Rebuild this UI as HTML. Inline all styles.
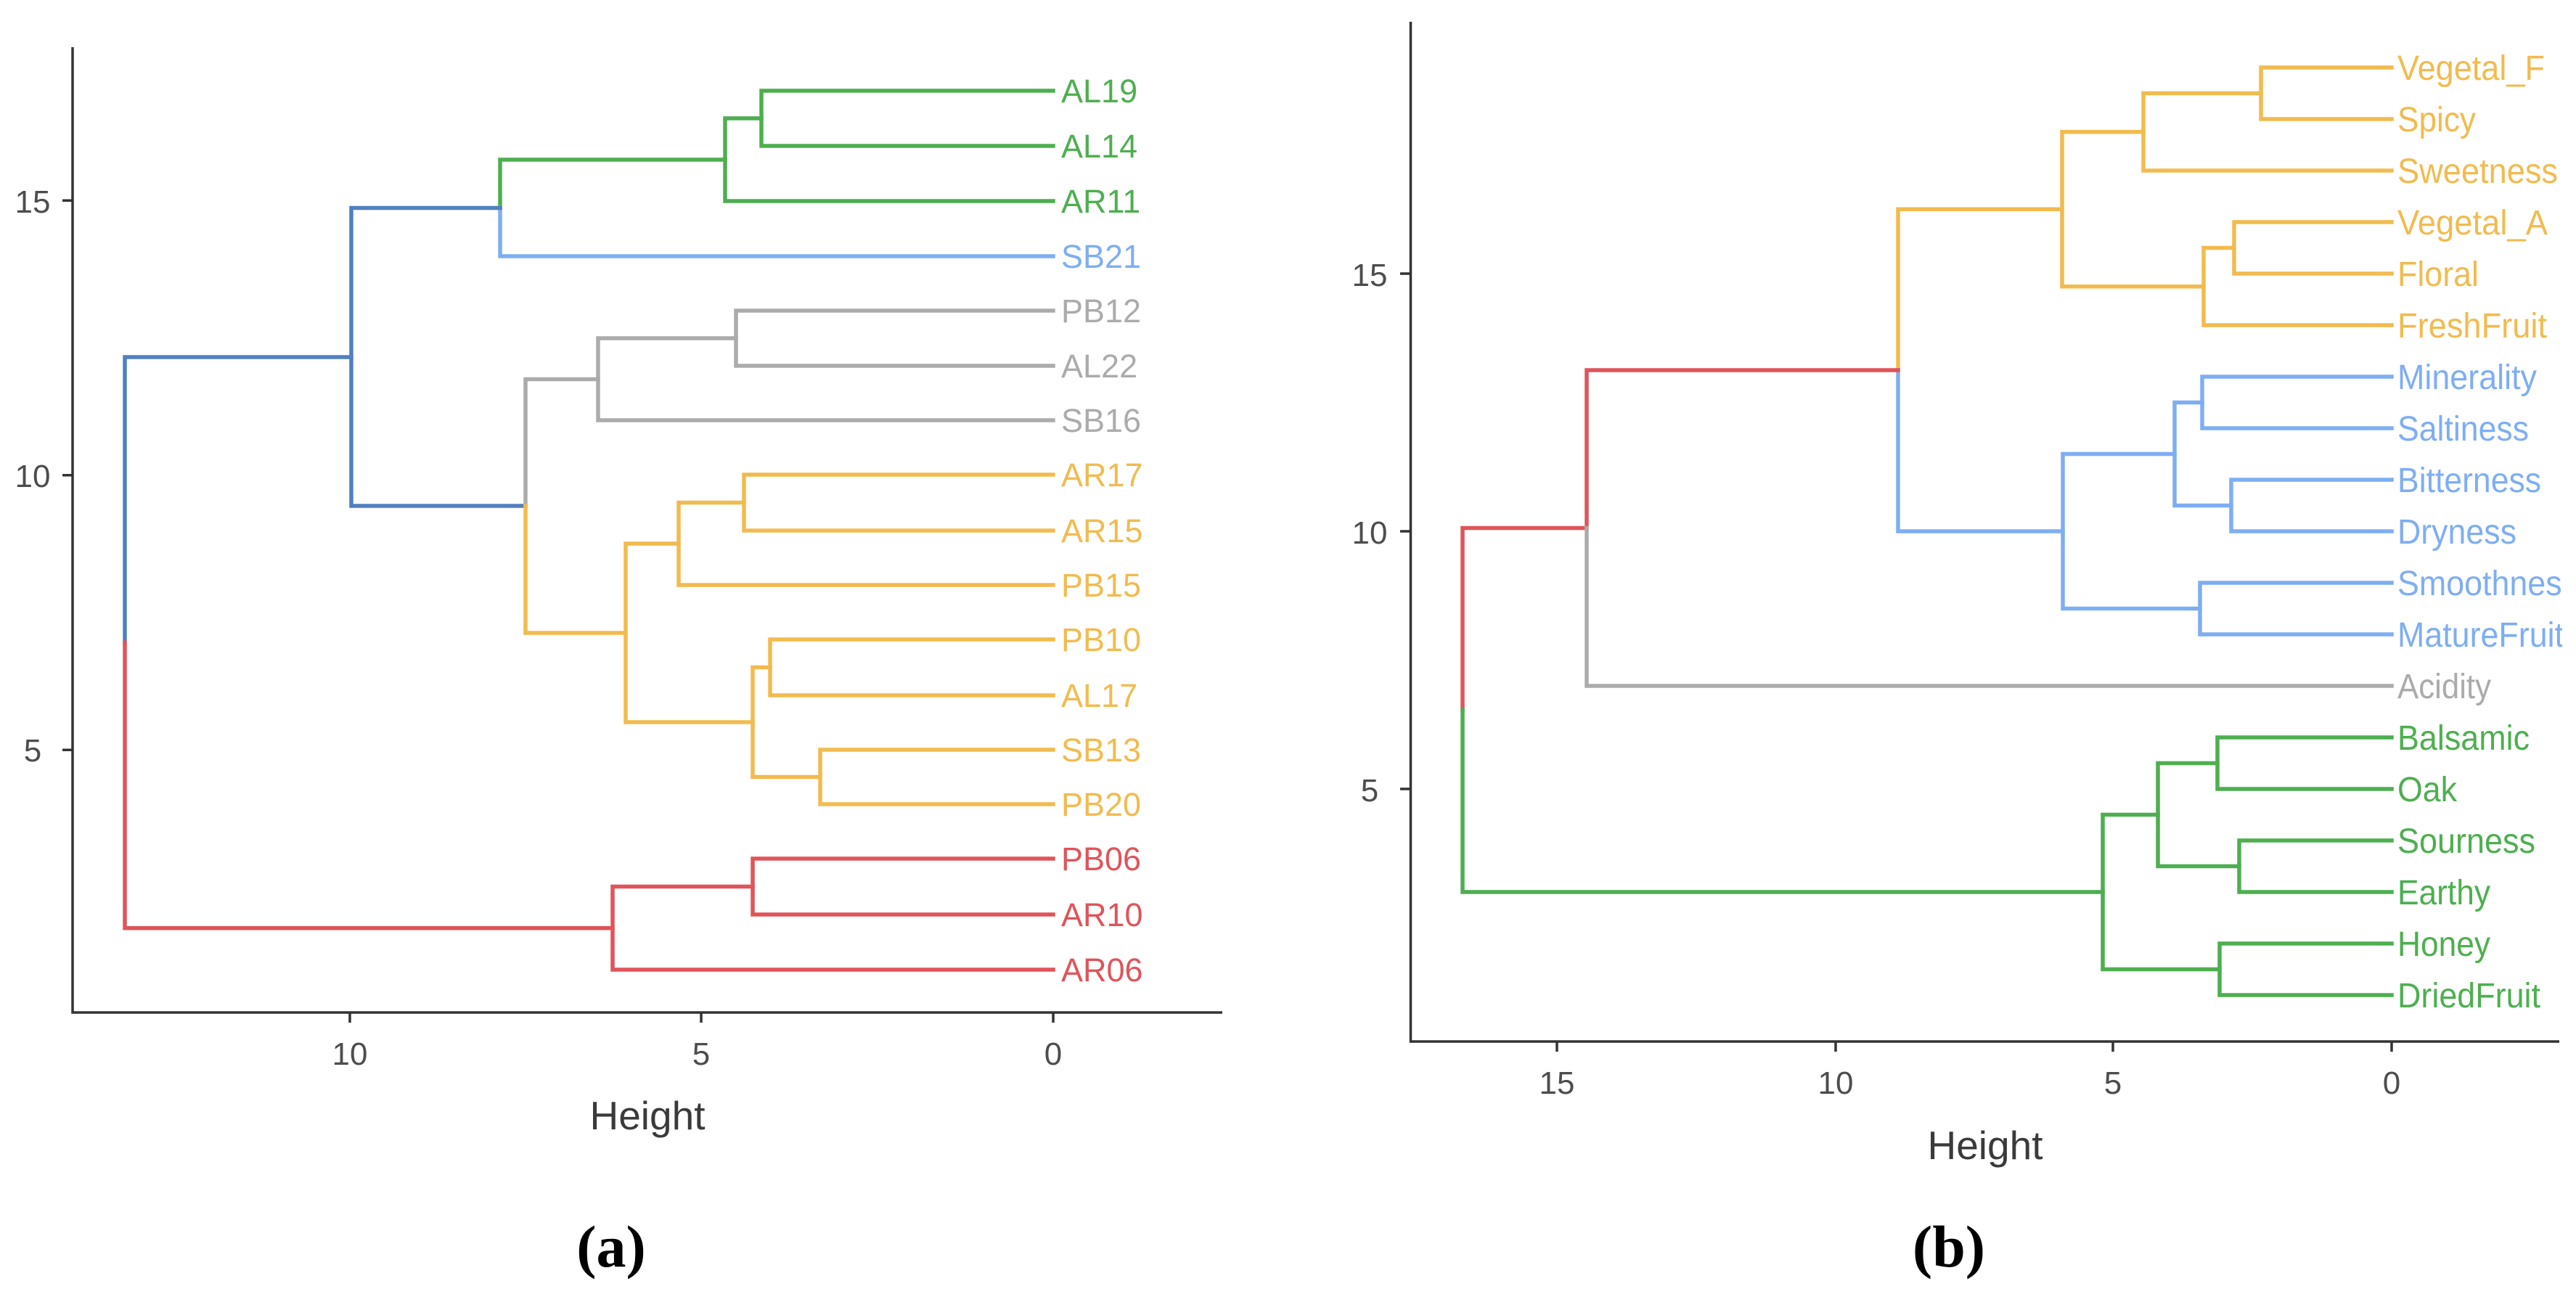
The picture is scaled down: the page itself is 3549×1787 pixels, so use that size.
<!DOCTYPE html>
<html>
<head>
<meta charset="utf-8">
<style>
html,body{margin:0;padding:0;background:#fff;}
svg{display:block;}
</style>
</head>
<body>
<svg xmlns="http://www.w3.org/2000/svg" width="3549" height="1787" viewBox="0 0 3549 1787">
<rect x="0" y="0" width="3549" height="1787" fill="#ffffff"/>
<defs>
<clipPath id="clipb"><rect x="0" y="0" width="3530" height="1787"/></clipPath>
</defs>

<!-- ================= PANEL A ================= -->
<g fill="none" stroke-width="5.5" stroke-linejoin="miter" stroke-linecap="square">
  <!-- green -->
  <g stroke="#4DAF4F">
    <path d="M1451,125 H1049 V201 H1451"/>
    <path d="M1049,163 H999 V277 H1451"/>
    <path d="M999,220 H689 V286.5"/>
  </g>
  <!-- light blue -->
  <path stroke="#7EAEF2" d="M689,286.5 V353 H1451"/>
  <!-- dark blue -->
  <g stroke="#5080C0">
    <path d="M689,286.5 H484 V697 H724"/>
    <path d="M484,492 H172 V885"/>
  </g>
  <!-- red -->
  <g stroke="#E0545A">
    <path d="M172,885 V1278.7 H844"/>
    <path d="M1037,1221.5 H844 V1336 H1451"/>
    <path d="M1451,1183 H1037 V1260 H1451"/>
  </g>
  <!-- gray -->
  <g stroke="#ABABAB">
    <path d="M724,697 V522.5 H824"/>
    <path d="M1014,466 H824 V579 H1451"/>
    <path d="M1451,428 H1014 V504 H1451"/>
  </g>
  <!-- orange -->
  <g stroke="#F2BB4E">
    <path d="M724,697 V872 H862"/>
    <path d="M935,749 H862 V995 H1037"/>
    <path d="M1025,692.5 H935 V806 H1451"/>
    <path d="M1451,654 H1025 V731 H1451"/>
    <path d="M1061,919.5 H1037 V1070.5 H1130"/>
    <path d="M1451,881 H1061 V958 H1451"/>
    <path d="M1451,1033 H1130 V1108 H1451"/>
  </g>
</g>

<!-- axes a -->
<g stroke="#333333" stroke-width="3.5" fill="none">
  <path d="M100,65 V1395 H1684"/>
  <path d="M86,276.3 H100 M86,654.8 H100 M86,1033.2 H100"/>
  <path d="M482,1395 V1409 M966,1395 V1409 M1451,1395 V1409"/>
</g>
<g font-family="Liberation Sans, Arial, sans-serif" font-size="44" fill="#4D4D4D" text-anchor="middle">
  <text x="45" y="293">15</text>
  <text x="45" y="671">10</text>
  <text x="45" y="1049">5</text>
  <text x="482" y="1467">10</text>
  <text x="966" y="1467">5</text>
  <text x="1451" y="1467">0</text>
</g>
<text x="892" y="1556" font-family="Liberation Sans, Arial, sans-serif" font-size="55" fill="#3A3A3A" text-anchor="middle">Height</text>

<!-- leaf labels a -->
<g font-family="Liberation Sans, Arial, sans-serif" font-size="45">
  <text x="1462" y="141" fill="#4DAF4F">AL19</text>
  <text x="1462" y="217" fill="#4DAF4F">AL14</text>
  <text x="1462" y="293" fill="#4DAF4F">AR11</text>
  <text x="1462" y="369" fill="#7EAEF2">SB21</text>
  <text x="1462" y="444" fill="#ABABAB">PB12</text>
  <text x="1462" y="520" fill="#ABABAB">AL22</text>
  <text x="1462" y="595" fill="#ABABAB">SB16</text>
  <text x="1462" y="670" fill="#F2BB4E">AR17</text>
  <text x="1462" y="747" fill="#F2BB4E">AR15</text>
  <text x="1462" y="822" fill="#F2BB4E">PB15</text>
  <text x="1462" y="897" fill="#F2BB4E">PB10</text>
  <text x="1462" y="974" fill="#F2BB4E">AL17</text>
  <text x="1462" y="1049" fill="#F2BB4E">SB13</text>
  <text x="1462" y="1124" fill="#F2BB4E">PB20</text>
  <text x="1462" y="1199" fill="#E0545A">PB06</text>
  <text x="1462" y="1276" fill="#E0545A">AR10</text>
  <text x="1462" y="1352" fill="#E0545A">AR06</text>
</g>

<text x="842" y="1745" font-family="Liberation Serif, 'Times New Roman', serif" font-size="82" font-weight="bold" fill="#000" text-anchor="middle">(a)</text>

<!-- ================= PANEL B ================= -->
<g fill="none" stroke-width="5.5" stroke-linejoin="miter" stroke-linecap="square">
  <!-- orange -->
  <g stroke="#F2BB4E">
    <path d="M3295,93 H3115 V164 H3295"/>
    <path d="M3115,128.5 H2953 V235 H3295"/>
    <path d="M3295,306 H3078 V377 H3295"/>
    <path d="M3078,341.5 H3036 V448 H3295"/>
    <path d="M2953,181.75 H2841 V394.75 H3036"/>
    <path d="M2841,288.25 H2615 V510"/>
  </g>
  <!-- light blue -->
  <g stroke="#7EAEF2">
    <path d="M2615,510 V732 H2842"/>
    <path d="M2996,625.5 H2842 V838.5 H3031"/>
    <path d="M3034,554.5 H2996 V696.5 H3074"/>
    <path d="M3295,519 H3034 V590 H3295"/>
    <path d="M3295,661 H3074 V732 H3295"/>
    <path d="M3295,803 H3031 V874 H3295"/>
  </g>
  <!-- red -->
  <path stroke="#E0545A" d="M2615,510 H2186 V727.5 H2015 V978"/>
  <!-- gray -->
  <path stroke="#ABABAB" d="M2186,727.5 V945 H3295"/>
  <!-- green -->
  <g stroke="#4DAF4F">
    <path d="M2015,978 V1229 H2897"/>
    <path d="M2973,1122.5 H2897 V1335.5 H3058"/>
    <path d="M3055,1051.5 H2973 V1193.5 H3085"/>
    <path d="M3295,1016 H3055 V1087 H3295"/>
    <path d="M3295,1158 H3085 V1229 H3295"/>
    <path d="M3295,1300 H3058 V1371 H3295"/>
  </g>
</g>

<!-- axes b -->
<g stroke="#333333" stroke-width="3.5" fill="none">
  <path d="M1943.5,30 V1435 H3526"/>
  <path d="M1929,377 H1943.5 M1929,732 H1943.5 M1929,1087 H1943.5"/>
  <path d="M2145,1435 V1449 M2529,1435 V1449 M2911,1435 V1449 M3295,1435 V1449"/>
</g>
<g font-family="Liberation Sans, Arial, sans-serif" font-size="44" fill="#4D4D4D" text-anchor="middle">
  <text x="1887" y="394">15</text>
  <text x="1887" y="749">10</text>
  <text x="1887" y="1104">5</text>
  <text x="2145" y="1507">15</text>
  <text x="2529" y="1507">10</text>
  <text x="2911" y="1507">5</text>
  <text x="3295" y="1507">0</text>
</g>
<text x="2735" y="1597" font-family="Liberation Sans, Arial, sans-serif" font-size="55" fill="#3A3A3A" text-anchor="middle">Height</text>

<!-- leaf labels b -->
<g font-family="Liberation Sans, Arial, sans-serif" font-size="48" clip-path="url(#clipb)" lengthAdjust="spacingAndGlyphs">
  <text x="3303" y="110" fill="#F2BB4E" textLength="203" lengthAdjust="spacingAndGlyphs">Vegetal_F</text>
  <text x="3303" y="181" fill="#F2BB4E" textLength="108" lengthAdjust="spacingAndGlyphs">Spicy</text>
  <text x="3303" y="252" fill="#F2BB4E" textLength="221" lengthAdjust="spacingAndGlyphs">Sweetness</text>
  <text x="3303" y="323" fill="#F2BB4E" textLength="207" lengthAdjust="spacingAndGlyphs">Vegetal_A</text>
  <text x="3303" y="394" fill="#F2BB4E" textLength="112" lengthAdjust="spacingAndGlyphs">Floral</text>
  <text x="3303" y="465" fill="#F2BB4E" textLength="206" lengthAdjust="spacingAndGlyphs">FreshFruit</text>
  <text x="3303" y="536" fill="#7EAEF2" textLength="192" lengthAdjust="spacingAndGlyphs">Minerality</text>
  <text x="3303" y="607" fill="#7EAEF2" textLength="181" lengthAdjust="spacingAndGlyphs">Saltiness</text>
  <text x="3303" y="678" fill="#7EAEF2" textLength="198" lengthAdjust="spacingAndGlyphs">Bitterness</text>
  <text x="3303" y="749" fill="#7EAEF2" textLength="164" lengthAdjust="spacingAndGlyphs">Dryness</text>
  <text x="3303" y="820" fill="#7EAEF2" textLength="249" lengthAdjust="spacingAndGlyphs">Smoothness</text>
  <text x="3303" y="891" fill="#7EAEF2" textLength="229" lengthAdjust="spacingAndGlyphs">MatureFruit</text>
  <text x="3303" y="962" fill="#ABABAB" textLength="129" lengthAdjust="spacingAndGlyphs">Acidity</text>
  <text x="3303" y="1033" fill="#4DAF4F" textLength="182" lengthAdjust="spacingAndGlyphs">Balsamic</text>
  <text x="3303" y="1104" fill="#4DAF4F" textLength="82" lengthAdjust="spacingAndGlyphs">Oak</text>
  <text x="3303" y="1175" fill="#4DAF4F" textLength="190" lengthAdjust="spacingAndGlyphs">Sourness</text>
  <text x="3303" y="1246" fill="#4DAF4F" textLength="128" lengthAdjust="spacingAndGlyphs">Earthy</text>
  <text x="3303" y="1317" fill="#4DAF4F" textLength="128" lengthAdjust="spacingAndGlyphs">Honey</text>
  <text x="3303" y="1388" fill="#4DAF4F" textLength="197" lengthAdjust="spacingAndGlyphs">DriedFruit</text>
</g>

<text x="2685" y="1745" font-family="Liberation Serif, 'Times New Roman', serif" font-size="82" font-weight="bold" fill="#000" text-anchor="middle">(b)</text>
</svg>
</body>
</html>
